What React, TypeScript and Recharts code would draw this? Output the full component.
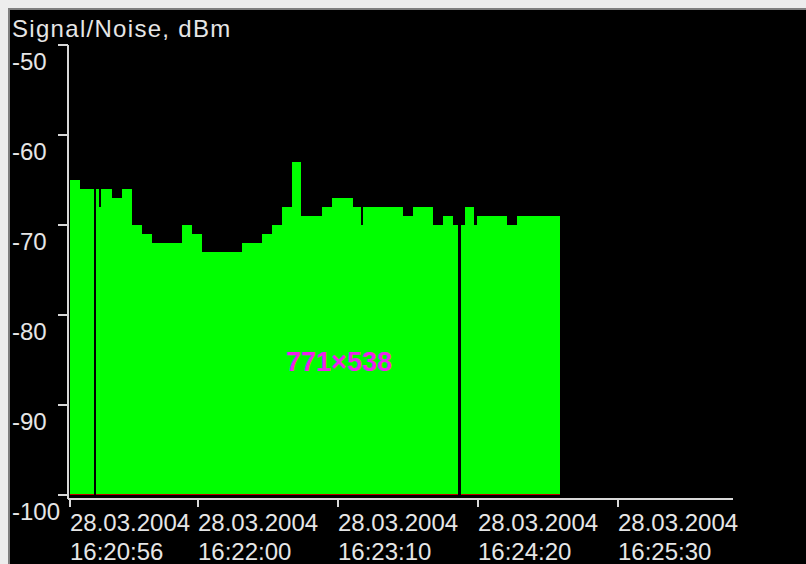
import { Area, ComposedChart, XAxis, YAxis } from "recharts";

// seconds after 28.03.2004 16:20:56, each sample holds until the next one
const sampleSeconds = [
  0, 5, 12, 13, 14.5, 15.5, 21, 26, 31, 36, 41, 56, 61, 66, 86, 96, 101, 106,
  111, 115.5, 126, 131, 141.5, 145.5, 146.5, 166.5, 171.5, 181.5, 186.5, 191.5,
  194, 195.5, 197.5, 202, 203.5, 218.5, 223.5, 245,
];

// -100 = no reading (dropout)
const signalDbm = [
  -65, -66, -100, -66, -68, -66, -67, -66, -70, -71, -72, -70, -71, -73, -72,
  -71, -70, -68, -63, -69, -68, -67, -68, -70, -68, -69, -68, -70, -69, -70,
  -100, -70, -68, -70, -69, -70, -69, -69,
];

const noiseDbm = [
  -99.9, -99.9, -100.15, -99.9, -99.9, -99.9, -99.9, -99.9, -99.9, -99.9, -99.9,
  -99.9, -99.9, -99.9, -99.9, -99.9, -99.9, -99.9, -99.9, -99.9, -99.9, -99.9,
  -99.9, -99.9, -99.9, -99.9, -99.9, -99.9, -99.9, -99.9, -100.15, -99.9, -99.9,
  -99.9, -99.9, -99.9, -99.9, -99.9,
];

const timeTicks = [0, 64, 134, 204, 274];
const tickDates = ["28.03.2004", "28.03.2004", "28.03.2004", "28.03.2004", "28.03.2004"];
const tickClocks = ["16:20:56", "16:22:00", "16:23:10", "16:24:20", "16:25:30"];
const dbmTicks = [-50, -60, -70, -80, -90, -100];

const data = sampleSeconds.map((t, i) => ({
  t,
  signal: signalDbm[i],
  noise: noiseDbm[i],
}));

const font = '"Liberation Sans", Arial, sans-serif';
const ink = "#e6e6e6";
const axisColor = "#d8d8d8";

function TimeTick({ x, y, payload }: any) {
  const i = timeTicks.indexOf(payload.value);
  return (
    <g>
      <text x={x} y={y + 22} fill={ink} fontSize={24} fontFamily={font}>
        {tickDates[i]}
      </text>
      <text x={x} y={y + 51} fill={ink} fontSize={24} fontFamily={font}>
        {tickClocks[i]}
      </text>
    </g>
  );
}

function DbmTick({ y, payload }: any) {
  return (
    <text x={12} y={y + 25} fill={ink} fontSize={24} fontFamily={font}>
      {payload.value}
    </text>
  );
}

export default function App() {
  return (
    <div
      style={{
        position: "fixed",
        left: 0,
        top: 0,
        width: 806,
        height: 564,
        background: "#ededed",
        overflow: "hidden",
      }}
    >
      <div
        style={{
          position: "absolute",
          left: 8,
          top: 8,
          width: 798,
          height: 556,
          background: "#000",
          borderTop: "2px solid #808080",
          borderLeft: "2px solid #808080",
          boxSizing: "border-box",
        }}
      />
      <div style={{ position: "absolute", left: 0, top: 0 }}>
        <ComposedChart
          width={806}
          height={564}
          data={data}
          margin={{ top: 45, right: 73, bottom: 0, left: 0 }}
        >
          <XAxis
            dataKey="t"
            type="number"
            domain={[-1, 331.5]}
            ticks={timeTicks}
            interval={0}
            height={65}
            tickSize={8}
            stroke={axisColor}
            strokeWidth={2}
            tick={<TimeTick />}
            allowDataOverflow
          />
          <YAxis
            type="number"
            domain={[-100, -50]}
            ticks={dbmTicks}
            interval={0}
            width={68}
            tickSize={10}
            padding={{ top: 0, bottom: 4 }}
            stroke={axisColor}
            strokeWidth={2}
            tick={<DbmTick />}
            allowDataOverflow
          />
          <Area
            type="stepAfter"
            dataKey="signal"
            baseValue={-100}
            fill="#00ff00"
            fillOpacity={1}
            stroke="none"
            dot={false}
            activeDot={false}
            isAnimationActive={false}
          />
          <Area
            type="stepAfter"
            dataKey="noise"
            baseValue={-100.15}
            fill="#c00000"
            fillOpacity={1}
            stroke="none"
            dot={false}
            activeDot={false}
            isAnimationActive={false}
          />
        </ComposedChart>
      </div>
      <svg
        width={806}
        height={564}
        style={{ position: "absolute", left: 0, top: 0, pointerEvents: "none" }}
      >
        <text x={12} y={37} fill={ink} fontSize={24} fontFamily={font} letterSpacing={1.3}>
          Signal/Noise, dBm
        </text>
        <text
          x={339}
          y={371}
          fill="#ee22ee"
          fontSize={27}
          fontWeight="bold"
          fontFamily={font}
          textAnchor="middle"
        >
          771×538
        </text>
      </svg>
    </div>
  );
}
